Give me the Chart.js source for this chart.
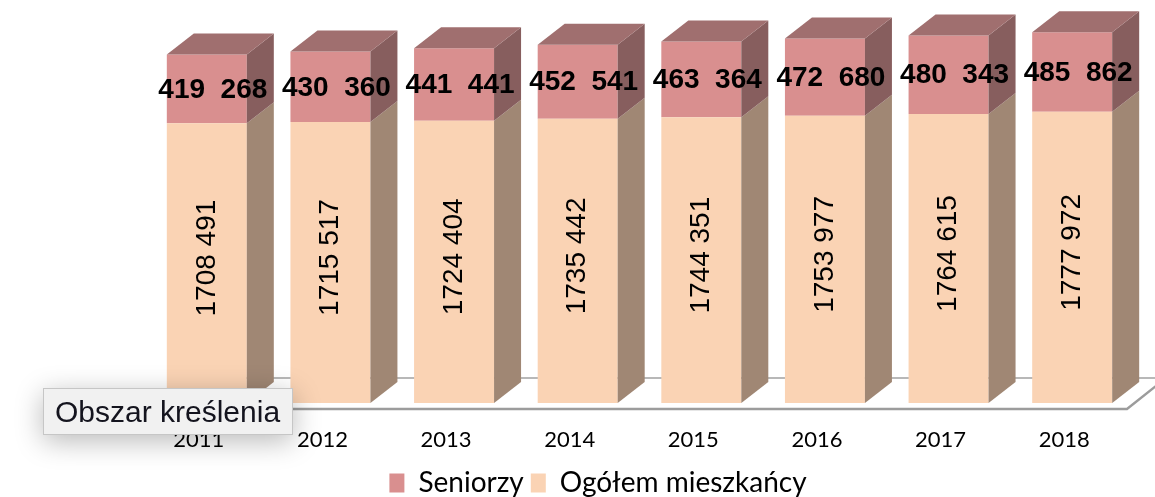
<!DOCTYPE html>
<html><head><meta charset="utf-8">
<script src="https://cdn.jsdelivr.net/npm/chart.js@4/dist/chart.umd.min.js"></script>
<style>
html,body{margin:0;padding:0;background:#fff;}
#wrap{position:relative;width:1155px;height:497px;overflow:hidden;}
#tip{position:absolute;left:43px;top:388px;width:250px;height:47px;box-sizing:border-box;background:#f1f1f1;border:1px solid #c6c6c6;box-shadow:0 6px 28px rgba(0,0,0,0.28);font-family:"Liberation Sans",Arial,sans-serif;font-size:30px;color:#14141e;line-height:45px;padding-left:11px;white-space:nowrap;}
</style></head>
<body><div id="wrap"><canvas id="c" width="1155" height="497"></canvas><div id="tip">Obszar kreślenia</div></div>
<script>
const years = ['2011','2012','2013','2014','2015','2016','2017','2018'];
const seniorzy = [419268, 430360, 441441, 452541, 463364, 472680, 480343, 485862];
const ogolem = [1708491, 1715517, 1724404, 1735442, 1744351, 1753977, 1764615, 1777972];
const seriesNames = ['Ogółem mieszkańcy', 'Seniorzy'];
const yMax = 2400000;

const DX = 27, DY = -21;
const fmtTop = v => String(v).replace(/(\d{3})$/, '  $1');
const fmtIn = v => String(v).replace(/(\d{3})$/, ' $1');

const threeD = {
  id: 'threeD',
  beforeDatasetsDraw(chart) {
    const ctx = chart.ctx, ca = chart.chartArea;
    const base = chart.scales.y.getPixelForValue(0);
    const fy = base + 6, by = base - 25;
    const fl = ca.left + 7, fr = ca.right - 7;
    const fdx = 39;
    ctx.save();
    ctx.beginPath();
    ctx.moveTo(fl, fy); ctx.lineTo(fr, fy); ctx.lineTo(fr + fdx, by); ctx.lineTo(fl + fdx, by); ctx.closePath();
    ctx.fillStyle = '#ffffff'; ctx.fill();
    ctx.lineWidth = 2; ctx.strokeStyle = '#b8b8b8';
    ctx.beginPath(); ctx.moveTo(fl + fdx, by); ctx.lineTo(fr + fdx, by); ctx.stroke();
    ctx.strokeStyle = '#9c9c9c'; ctx.lineWidth = 2.5;
    ctx.beginPath(); ctx.moveTo(fl + fdx, by); ctx.lineTo(fl, fy); ctx.lineTo(fr, fy); ctx.lineTo(fr + fdx, by); ctx.stroke();
    ctx.restore();
  },
  afterDatasetsDraw(chart) {
    const ctx = chart.ctx;
    const sideCols = ['#a08774', '#875e5e'];
    const topCol = '#a06f6f';
    const metas = [chart.getDatasetMeta(0), chart.getDatasetMeta(1)];
    ctx.save();
    for (let i = 0; i < years.length; i++) {
      metas.forEach((m, k) => {
        const p = m.data[i].getProps(['x', 'y', 'base', 'width'], true);
        const L = p.x - p.width / 2, R = p.x + p.width / 2;
        const T = Math.min(p.y, p.base), B = Math.max(p.y, p.base);
        ctx.fillStyle = sideCols[k];
        ctx.beginPath();
        ctx.moveTo(R, T); ctx.lineTo(R + DX, T + DY); ctx.lineTo(R + DX, B + DY); ctx.lineTo(R, B); ctx.closePath();
        ctx.fill();
        if (k === metas.length - 1) {
          ctx.fillStyle = topCol;
          ctx.beginPath();
          ctx.moveTo(L, T); ctx.lineTo(L + DX, T + DY); ctx.lineTo(R + DX, T + DY); ctx.lineTo(R, T); ctx.closePath();
          ctx.fill();
        }
      });
    }
    ctx.fillStyle = '#000';
    ctx.textAlign = 'center';
    ctx.textBaseline = 'middle';
    for (let i = 0; i < years.length; i++) {
      const po = metas[0].data[i].getProps(['x', 'y', 'base'], true);
      const ps = metas[1].data[i].getProps(['x', 'y', 'base'], true);
      ctx.font = 'bold 28px "Liberation Sans", Arial, sans-serif';
      ctx.fillText(fmtTop(seniorzy[i]), ps.x + 6, (ps.y + ps.base) / 2 + 1);
      ctx.save();
      ctx.translate(po.x, (po.y + po.base) / 2 - 5);
      ctx.rotate(-Math.PI / 2);
      ctx.font = '28px "Liberation Sans", Arial, sans-serif';
      ctx.fillText(fmtIn(ogolem[i]), 0, 0);
      ctx.restore();
    }
    ctx.restore();
  }
};

new Chart(document.getElementById('c'), {
  type: 'bar',
  data: {
    labels: years,
    datasets: [
      { label: seriesNames[0], data: ogolem, backgroundColor: '#fad3b4', borderWidth: 0 },
      { label: seriesNames[1], data: seniorzy, backgroundColor: '#d98f8f', borderWidth: 0 }
    ]
  },
  options: {
    responsive: false,
    devicePixelRatio: 1,
    animation: false,
    events: [],
    layout: { padding: { left: 62, right: 21, top: 10, bottom: -10 } },
    datasets: { bar: { categoryPercentage: 1, barPercentage: 0.647 } },
    scales: {
      x: {
        stacked: true,
        grid: { display: false, drawTicks: false },
        border: { display: false },
        ticks: { color: '#000', font: { family: 'Lato', size: 22 }, padding: 24, labelOffset: -8, maxRotation: 0 },
        afterFit: a => { a.height = 59; }
      },
      y: {
        stacked: true, min: 0, max: yMax,
        grid: { display: false, drawTicks: false },
        border: { display: false },
        ticks: { display: false },
        afterFit: a => { a.width = 83; }
      }
    },
    plugins: {
      tooltip: { enabled: false },
      legend: {
        position: 'bottom',
        reverse: true,
        labels: { color: '#000', font: { family: 'Lato', size: 28 }, boxWidth: 15, boxHeight: 19, padding: 7 }
      }
    }
  },
  plugins: [threeD]
});
</script>
</body></html>
